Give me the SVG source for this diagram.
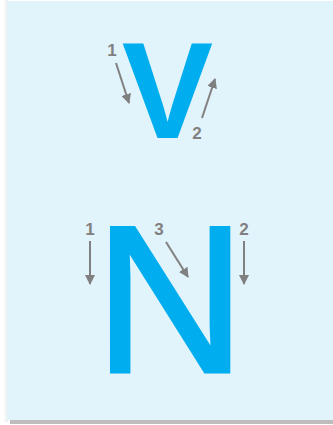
<svg xmlns="http://www.w3.org/2000/svg" width="333" height="425" viewBox="0 0 333 425">
<defs>
<style>
.letter{font-family:"Liberation Sans",Arial,sans-serif;font-weight:bold;fill:#00aeef;text-anchor:middle}
.num{font-family:"Liberation Sans",Arial,sans-serif;font-weight:bold;font-size:17px;fill:#808080;text-anchor:middle}
.arr{stroke:#808080;stroke-width:2;fill:none;marker-end:url(#ah)}
</style>
<marker id="ah" viewBox="0 0 10 10" refX="9" refY="5" markerWidth="5" markerHeight="5" orient="auto" markerUnits="strokeWidth">
<path d="M0,0 L10,5 L0,10 z" fill="#808080"/>
</marker>
<linearGradient id="lshadow" x1="0" y1="0" x2="1" y2="0">
<stop offset="0" stop-color="#ffffff"/>
<stop offset="1" stop-color="#ececec"/>
</linearGradient>
</defs>
<rect x="0" y="0" width="333" height="425" fill="#ffffff"/>
<rect x="3" y="0" width="5" height="422" fill="url(#lshadow)"/>
<rect x="10" y="419" width="323" height="5" fill="#bdbdbd"/>
<rect x="7" y="1" width="326" height="419" fill="#e1f3fb"/>
<g id="letter-V">
<text class="letter" x="167.5" y="138" font-size="137">V</text>
</g>
<g id="letter-N">
<text class="letter" x="170" y="372" font-size="210" style="font-weight:normal;stroke:#00aeef;stroke-width:3">N</text>
</g>
<g id="labels">
<text class="num" x="112" y="56">1</text>
<text class="num" x="197" y="139">2</text>
<text class="num" x="90" y="235">1</text>
<text class="num" x="159" y="235">3</text>
<text class="num" x="244" y="235">2</text>
</g>
<g id="connectors">
<line class="arr" x1="116" y1="63" x2="129" y2="103"/>
<line class="arr" x1="202" y1="118" x2="215" y2="79"/>
<line class="arr" x1="90" y1="241" x2="90" y2="284"/>
<line class="arr" x1="166" y1="242" x2="188" y2="277"/>
<line class="arr" x1="244" y1="241" x2="244" y2="284"/>
</g>
</svg>
